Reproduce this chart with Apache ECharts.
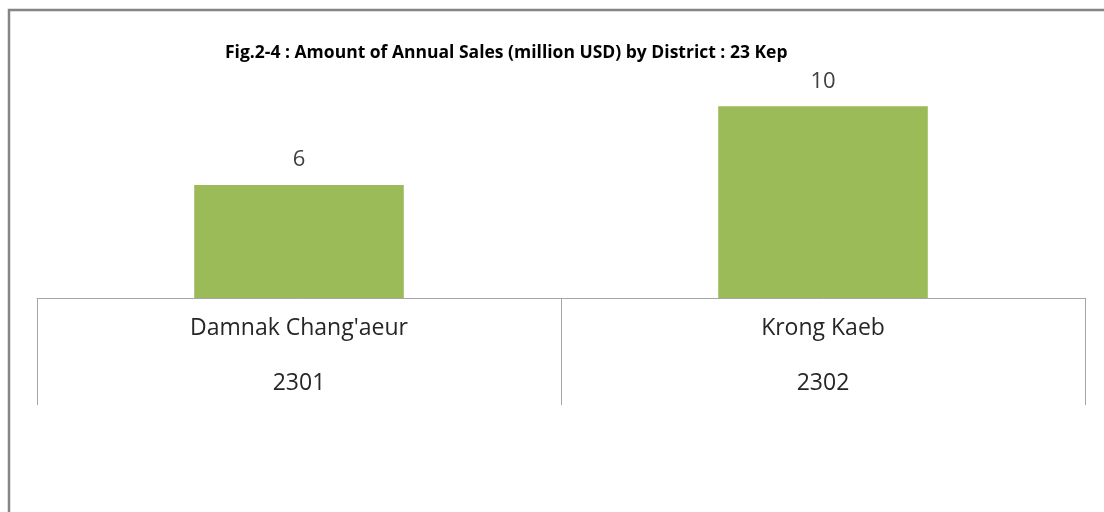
<!DOCTYPE html>
<html>
<head>
<meta charset="utf-8">
<script src="https://cdn.jsdelivr.net/npm/echarts@6/dist/echarts.min.js"></script>
<style>
  html, body { margin: 0; padding: 0; background: #fff; }
  #chart { width: 1104px; height: 512px; }
</style>
</head>
<body>
<div id="chart"></div>
<script>
var districts = ['Damnak Chang\'aeur', 'Krong Kaeb'];
var codes = ['2301', '2302'];
var sales = [5.9, 10.0];

var myChart = echarts.init(document.getElementById('chart'));
var font = '"Open Sans", Lato, sans-serif';

option = {
    animation: false,
    title: {
        text: 'Fig.2-4 : Amount of Annual Sales (million USD) by District : 23 Kep',
        left: 220,
        top: 39,
        textStyle: { fontFamily: font, fontSize: 17.5, fontWeight: 'bold', color: '#000' }
    },
    graphic: [{
        type: 'rect',
        shape: { x: 9, y: 10, width: 1110, height: 520 },
        style: { fill: 'none', stroke: '#858585', lineWidth: 2.5 },
        silent: true
    }],
    grid: { left: 37, right: 19, top: 68, bottom: 214 },
    xAxis: [{
        type: 'category',
        data: districts,
        position: 'bottom',
        axisLine: { lineStyle: { color: '#a6a6a6', width: 1 } },
        axisTick: { show: true, length: 107, lineStyle: { color: '#a6a6a6' } },
        axisLabel: { margin: 19, fontFamily: font, fontSize: 23, color: '#262626' }
    }, {
        type: 'category',
        data: codes,
        position: 'bottom',
        offset: 55,
        axisLine: { show: false },
        axisTick: { show: false },
        axisLabel: { margin: 19, fontFamily: font, fontSize: 23, color: '#262626' }
    }],
    yAxis: {
        type: 'value',
        min: 0,
        max: 12,
        show: false,
        splitLine: { show: false }
    },
    series: [{
        type: 'bar',
        data: sales,
        barWidth: '40%',
        itemStyle: { color: '#9bbb59' },
        label: {
            show: true,
            position: 'top',
            distance: 14,
            fontFamily: font,
            fontSize: 22,
            color: '#404040',
            formatter: function (p) { return Math.round(p.value); }
        }
    }]
};

myChart.setOption(option);
</script>
</body>
</html>
